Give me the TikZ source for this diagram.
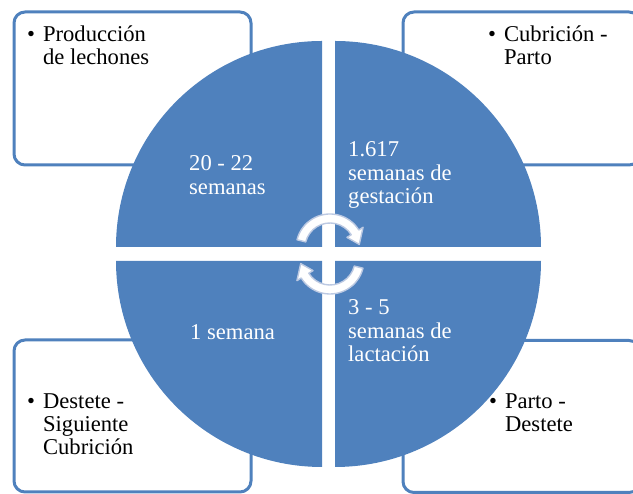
\documentclass[tikz,border=0pt]{standalone}
\usepackage{fontspec}
\setmainfont{Liberation Serif}
\definecolor{pieblue}{HTML}{4F81BD}
\definecolor{arrowedge}{HTML}{BCC9E2}
\begin{document}
\begin{tikzpicture}[x=1pt,y=1pt,
  box/.style={draw=pieblue, line width=3pt, rounded corners=11pt, fill=white,
    minimum width=237pt, inner sep=0pt, outer sep=0pt},
  quarter/.style={fill=pieblue},
  blabel/.style={inner sep=0pt, anchor=base west, text=black,
    font=\fontsize{22.6}{22.8}\selectfont},
  wlabel/.style={inner sep=0pt, anchor=base west, text=white,
    font=\fontsize{22.6}{23.5}\selectfont},
  cyc/.style={fill=white, draw=arrowedge, line width=1.4pt, line join=round}]
\useasboundingbox (0,0) rectangle (633,494);
\clip (0,0) rectangle (633,494);
% outer boxes
\node[box, minimum height=153pt] (tl) at (132.5,405.5) {};
\node[box, minimum height=153pt] (tr) at (521.5,405.5) {};
\node[box, minimum height=152pt] (bl) at (132.5,78) {};
\node[box, minimum height=152pt] (br) at (521.5,77.5) {};
% pie quarters
\fill[quarter] (322,247) -- (116,247) arc[start angle=180, end angle=90, radius=206pt] -- cycle;
\fill[quarter] (335,247) -- (335,453) arc[start angle=90, end angle=0, radius=206pt] -- cycle;
\fill[quarter] (322,233) -- (322,27) arc[start angle=270, end angle=180, radius=206pt] -- cycle;
\fill[quarter] (335,233) -- (541,233) arc[start angle=0, end angle=-90, radius=206pt] -- cycle;
% box texts
\node[blabel] (tltext) at (27,452) {\begin{tabular}[t]{@{}l@{\hspace{8pt}}l@{}}•&Producción\\ &de lechones\end{tabular}};
\node[blabel] (trtext) at (488,452) {\begin{tabular}[t]{@{}l@{\hspace{8pt}}l@{}}•&Cubrición -\\ &Parto\end{tabular}};
\node[blabel] (bltext) at (27,85) {\begin{tabular}[t]{@{}l@{\hspace{8pt}}l@{}}•&Destete -\\ &Siguiente\\ &Cubrición\end{tabular}};
\node[blabel] (brtext) at (489,85) {\begin{tabular}[t]{@{}l@{\hspace{8pt}}l@{}}•&Parto -\\ &Destete\end{tabular}};
% pie texts
\node[wlabel] (q1) at (189,323) {\begin{tabular}[t]{@{}l@{}}20 - 22\\semanas\end{tabular}};
\node[wlabel] (q2) at (348,337) {\begin{tabular}[t]{@{}l@{}}1.617\\semanas de\\gestación\end{tabular}};
\node[wlabel] (q3) at (190,154) {1 semana};
\node[wlabel] (q4) at (348,179) {\begin{tabular}[t]{@{}l@{}}3 - 5\\semanas de\\lactación\end{tabular}};
% circular arrows
\begin{scope}[shift={(330,246)}]
\draw[cyc] (166:34pt) arc[start angle=166, end angle=32, radius=34pt]
  -- (32:39pt) -- (7:29.5pt) -- (32:20pt) -- (32:25pt)
  arc[start angle=32, end angle=166, radius=25pt] -- cycle;
\end{scope}
\begin{scope}[shift={(330,234)}, rotate=180]
\draw[cyc] (166:34pt) arc[start angle=166, end angle=32, radius=34pt]
  -- (32:39pt) -- (7:29.5pt) -- (32:20pt) -- (32:25pt)
  arc[start angle=32, end angle=166, radius=25pt] -- cycle;
\end{scope}
\end{tikzpicture}
\end{document}
